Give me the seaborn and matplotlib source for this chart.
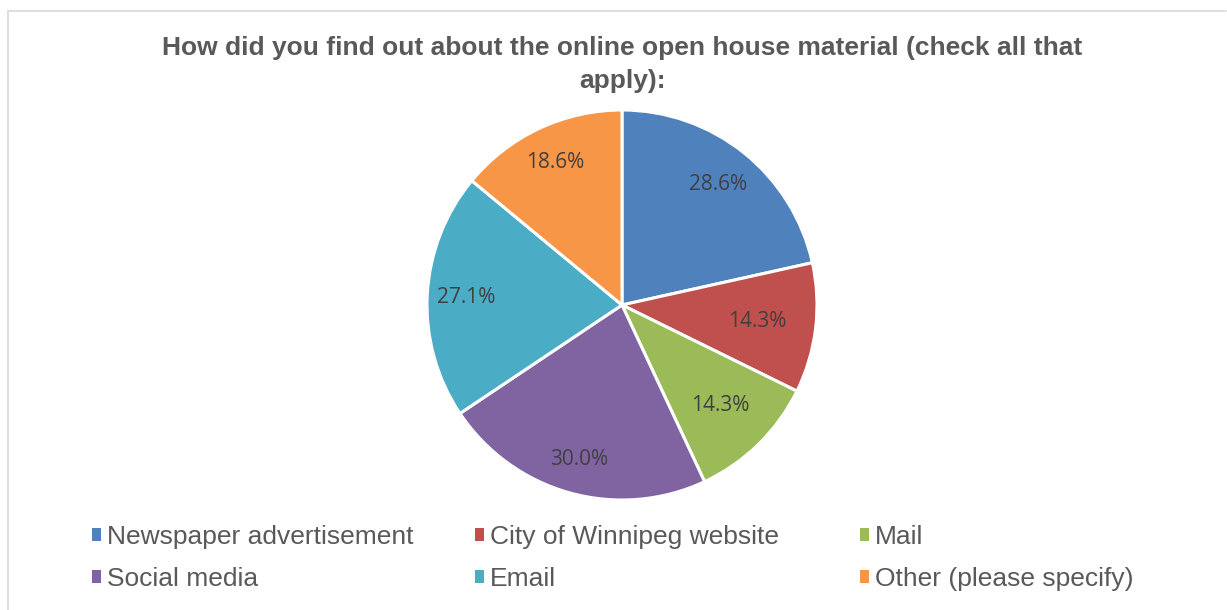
import matplotlib
matplotlib.use("Agg")
import matplotlib.pyplot as plt
import seaborn as sns
import numpy as np
from matplotlib.patches import Patch
from matplotlib.lines import Line2D

# Survey answers (check all that apply, so shares add up past 100)
sources = ['Newspaper advertisement', 'City of Winnipeg website', 'Mail',
           'Social media', 'Email', 'Other (please specify)']
shares = [28.6, 14.3, 14.3, 30.0, 27.1, 18.6]
colors = ['#4F81BD', '#C0504D', '#9BBB59', '#8064A2', '#4BACC6', '#F79646']

title = 'How did you find out about the online open house material (check all that\napply):'

sns.set_theme(style='white')
plt.rcParams['font.family'] = ['Liberation Sans', 'DejaVu Sans']

W, H = 1227, 610
fig = plt.figure(figsize=(W / 100, H / 100), dpi=100)

# pie axes: centre ~(622, 305) px, radius ~195 px
cx, cy, r = 622, 305, 195
ax = fig.add_axes([(cx - r) / W, (H - cy - r) / H, 2 * r / W, 2 * r / H])

total = sum(shares)
wedges, texts, autotexts = ax.pie(
    shares, colors=colors, startangle=90, counterclock=False, radius=1,
    autopct=lambda p: f'{p * total / 100:.1f}%', pctdistance=0.78,
    wedgeprops=dict(edgecolor='white', linewidth=2.2),
    textprops=dict(color='#404040', fontsize=15, family='Open Sans'))
ax.set_xlim(-1, 1)
ax.set_ylim(-1, 1)
ax.set_aspect('equal')
ax.axis('off')

# nudge labels like Excel's best-fit placement
dists = [0.79, 0.70, 0.72, 0.82, 0.80, 0.81]
for w, t, d in zip(wedges, autotexts, dists):
    ang = np.deg2rad((w.theta1 + w.theta2) / 2)
    t.set_position((d * np.cos(ang), d * np.sin(ang)))

fig.text(cx / W, 1 - 36 / H, title, ha='center', va='top', fontsize=19,
         fontweight='bold', color='#595959', linespacing=1.45)

# legend: three columns, two rows
col_x = [92, 475, 860]
for i, x in enumerate(col_x):
    idx = [i, i + 3]
    handles = [Patch(facecolor=colors[j], edgecolor='none') for j in idx]
    leg = fig.legend(handles, [sources[j] for j in idx], loc='upper left',
                     bbox_to_anchor=(x / W, 1 - 525 / H), frameon=False,
                     fontsize=19, handlelength=0.35, handleheight=0.35,
                     handletextpad=0.2, labelspacing=0.68, borderaxespad=0,
                     borderpad=0)
    for t in leg.get_texts():
        t.set_color('#595959')

# chart area border (top and left visible)
border = '#D9D9D9'
fig.add_artist(Line2D([8 / W, 1226 / W], [1 - 11 / H, 1 - 11 / H],
                      transform=fig.transFigure, color=border, lw=1.2))
fig.add_artist(Line2D([8 / W, 8 / W], [0, 1 - 11 / H],
                      transform=fig.transFigure, color=border, lw=1.2))

fig.savefig('out.png', dpi=100)
